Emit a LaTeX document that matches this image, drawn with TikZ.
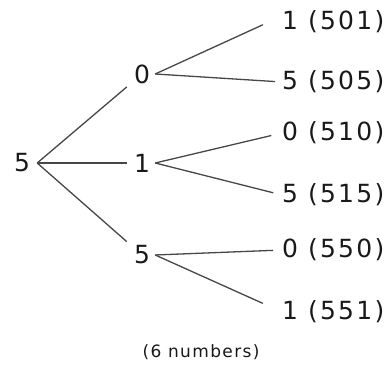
\documentclass[tikz,border=0pt]{standalone}
\usepackage{fontspec}
\setmainfont{DejaVu Sans}
\newfontfamily\spacedfont[LetterSpace=9]{DejaVu Sans}
\newfontfamily\captfont[LetterSpace=8]{DejaVu Sans}
\begin{document}
\begin{tikzpicture}[x=1pt,y=-1pt,
  every node/.style={text=black!90},
  dig/.style={font=\fontsize{25}{25}\selectfont, inner sep=0pt, minimum width=30pt, minimum height=30pt},
  leaf/.style={font=\spacedfont\fontsize{25}{25}\selectfont, inner sep=0pt, anchor=west},
  edge/.style={draw=black!72, line width=1.3pt},
  capt/.style={font=\captfont\fontsize{17}{17}\selectfont, inner sep=0pt}]
\useasboundingbox (0,0) rectangle (391,379);
\node[dig] (r) at (22,163) {5};
\node[dig] (a0) at (142,74) {0};
\node[dig] (a1) at (142,163) {1};
\node[dig] (a5) at (142,255) {5};
\node[leaf] (l1) at (282,22) {1\hspace{0.4em}(501)};
\node[leaf] (l2) at (282,82) {5\hspace{0.4em}(505)};
\node[leaf] (l3) at (282,133) {0\hspace{0.4em}(510)};
\node[leaf] (l4) at (282,195) {5\hspace{0.4em}(515)};
\node[leaf] (l5) at (282,250) {0\hspace{0.4em}(550)};
\node[leaf] (l6) at (282,312) {1\hspace{0.4em}(551)};
\node[capt] (c) at (201,352) {(6 numbers)};
\draw[edge] (r.east) -- (a0);
\draw[edge] (r.east) -- (a1);
\draw[edge] (r.east) -- (a5);
\draw[edge, shorten >=21pt] ([xshift=-2pt]a0.east) -- ([yshift=6pt]l1.west);
\draw[edge, shorten >=7pt] ([xshift=-2pt]a0.east) -- (l2.west);
\draw[edge, shorten >=11pt] ([xshift=-2pt]a1.east) -- (l3.west);
\draw[edge, shorten >=9pt] ([xshift=-2pt]a1.east) -- (l4.west);
\draw[edge, shorten >=9pt] ([xshift=-2pt]a5.east) -- (l5.west);
\draw[edge, shorten >=21pt] ([xshift=-2pt]a5.east) -- (l6.west);
\end{tikzpicture}
\end{document}
